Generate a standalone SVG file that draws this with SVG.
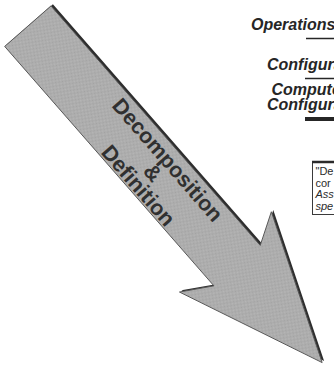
<svg xmlns="http://www.w3.org/2000/svg" width="334" height="375" viewBox="0 0 334 375">
  <style>
    .heading { font-family: "Liberation Sans", Arial, sans-serif; font-weight: bold; font-style: italic; font-size: 16px; fill: #262626; }
    .arrow-label { font-family: "Liberation Sans", Arial, sans-serif; font-weight: bold; font-size: 21.5px; fill: #303030; text-anchor: middle; }
    .note { font-family: "Liberation Sans", Arial, sans-serif; font-size: 11px; fill: #2b2b2b; }
    .note-it { font-style: italic; }
    .rule { stroke: #262626; stroke-width: 1.5; }
  </style>
  <defs>
    <!-- halftone-like grey fill -->
    <pattern id="halftone" width="2" height="2" patternUnits="userSpaceOnUse">
      <rect width="2" height="2" fill="#b6b6b6"/>
      <rect width="1" height="1" fill="#a2a2a2"/>
      <rect x="1" y="1" width="1" height="1" fill="#a6a6a6"/>
    </pattern>
  </defs>

  <rect width="334" height="375" fill="#ffffff"/>

  <!-- big diagonal arrow -->
  <g id="arrow" transform="translate(28,26) rotate(48.85)">
    <polygon points="0,-30.5 318,-30.5 300,-61 447,0 300,61 318,31 0,31" fill="#2e2e2e" transform="translate(0,-2.6)"/>
    <polygon points="0,-30.5 318,-30.5 300,-61 447,0 300,61 318,31 0,31" fill="url(#halftone)" stroke="#555555" stroke-width="0.9" stroke-linejoin="miter"/>
  </g>
  <g id="arrow-label" transform="translate(155,171) rotate(48.85)">
    <text class="arrow-label" x="0" y="-9.5">Decomposition</text>
    <text class="arrow-label" x="0" y="10">&amp;</text>
    <text class="arrow-label" x="0" y="29.5">Definition</text>
  </g>

  <!-- level headings on the right -->
  <g id="operations">
    <text class="heading" x="251" y="30">Operations</text>
    <line class="rule" x1="306" y1="38.5" x2="334" y2="38.5"/>
  </g>
  <g id="configuration">
    <text class="heading" x="267" y="70">Configura</text>
    <line class="rule" x1="305" y1="78.5" x2="334" y2="78.5"/>
  </g>
  <g id="computer-configuration">
    <text class="heading" x="271.5" y="94.5">Compute</text>
    <text class="heading" x="267" y="109.5">Configura</text>
    <rect x="305" y="117" width="29" height="4" fill="#262626"/>
  </g>

  <!-- note box -->
  <g id="note">
    <rect x="312.5" y="162.5" width="30" height="52" fill="#ffffff" stroke="#3a3a3a" stroke-width="1"/>
    <line x1="312" y1="162" x2="334" y2="162" stroke="#2b2b2b" stroke-width="2.5"/>
    <text class="note" x="315.5" y="175">"De</text>
    <text class="note" x="315.5" y="186.5">cor</text>
    <text class="note note-it" x="315.5" y="198">Ass</text>
    <text class="note note-it" x="315.5" y="209.5">spe</text>
  </g>
</svg>
